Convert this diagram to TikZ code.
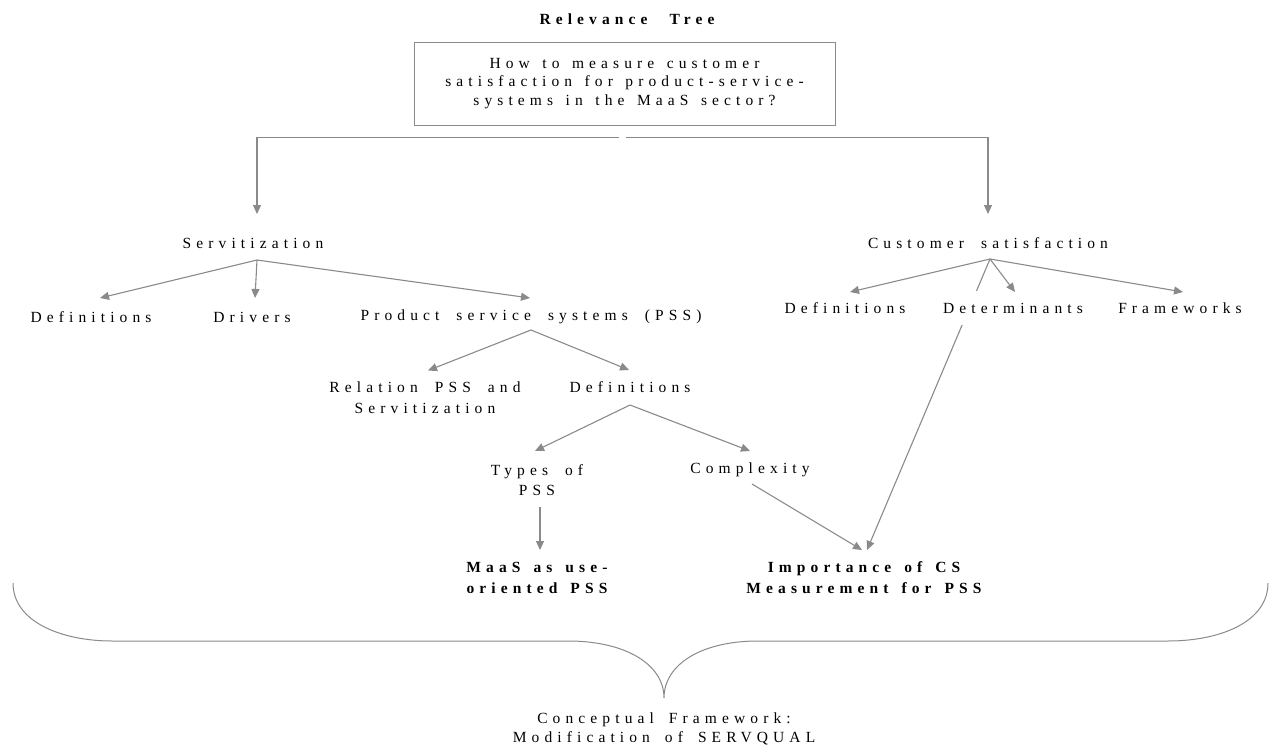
\documentclass[tikz,border=0pt]{standalone}
\usepackage{fontspec}
\setmainfont{Liberation Serif}[LetterSpace=33]
\usetikzlibrary{arrows.meta,calc}
\definecolor{linegray}{RGB}{138,138,138}
\newcommand{\gap}[1]{\spaceskip=#1pt plus 1pt minus 1pt\relax}
\tikzset{
  lbl/.style={inner sep=0pt, align=center, font=\fontsize{15.5}{20.5}\selectfont\gap{17}},
  strong/.style={inner sep=0pt, align=center, font=\fontsize{15.5}{21}\selectfont\bfseries\gap{13}},
  conn/.style={draw=linegray, line width=1.1pt, -{Triangle[length=9pt,width=8pt]}},
  brace/.style={draw=linegray, line width=1pt},
}
\begin{document}
\begin{tikzpicture}[x=1pt,y=-1pt]
\useasboundingbox (0,0) rectangle (1275,747);

% title and research question
\node[inner sep=0pt, font=\fontsize{15.5}{21}\selectfont\bfseries\gap{22}] (title) at (627,19) {Relevance Tree};
\node[draw=linegray, line width=1pt, minimum width=421pt, minimum height=83pt,
      inner sep=0pt, align=center, font=\fontsize{15.5}{18.5}\selectfont\gap{12.5}]
      (q) at (624.5,83.5) {How to measure customer\\satisfaction for product-service-\\systems in the MaaS sector?};

% first level
\node[lbl] (serv) at (253,243) {Servitization};
\node[lbl] (cs) at (988,243) {Customer satisfaction};

% servitization branch
\node[lbl] (defA) at (91,317) {Definitions};
\node[lbl] (drv) at (252,317) {Drivers};
\node[lbl] (pss) at (531,317) {Product service systems (PSS)};
\node[lbl] (rel) at (425,397.5) {Relation PSS and\\Servitization};
\node[lbl] (defB) at (630,387) {Definitions};
\node[lbl] (types) at (537,480) {Types of\\PSS};
\node[lbl] (cplx) at (750,470) {Complexity};
\node[strong] (maas) at (537,577.5) {MaaS as use-\\oriented PSS};
\node[strong] (imp) at (864,577.5) {Importance of CS\\Measurement for PSS};

% customer satisfaction branch
\node[lbl] (defC) at (845,308) {Definitions};
\node[lbl] (fw) at (1180,308) {Frameworks};

% connector end points
\coordinate (qL) at ($(q.south)+(-5.5,12)$);
\coordinate (qR) at ($(q.south)+(1.5,12)$);
\coordinate (servIn) at ($(serv.center)+(4,-29)$);
\coordinate (servOut) at ($(serv.center)+(4,17)$);
\coordinate (csIn) at ($(cs.center)+(0,-29)$);
\coordinate (csOut) at ($(cs.center)+(2,16)$);
\coordinate (defAIn) at ($(defA.center)+(9,-19)$);
\coordinate (drvIn) at ($(drv.center)+(3,-19)$);
\coordinate (pssIn) at ($(pss.center)+(-1,-19)$);
\coordinate (pssOut) at ($(pss.center)+(0,13)$);
\coordinate (relIn) at ($(rel.center)+(3,-27)$);
\coordinate (defBIn) at ($(defB.center)+(-1,-17)$);
\coordinate (defBOut) at ($(defB.center)+(0,18)$);
\coordinate (typesIn) at ($(types.center)+(-2,-29)$);
\coordinate (typesOut) at ($(types.center)+(3,27)$);
\coordinate (cplxIn) at ($(cplx.center)+(0,-19)$);
\coordinate (cplxOut) at ($(cplx.center)+(2,14)$);
\coordinate (maasIn) at ($(maas.center)+(3,-27.5)$);
\coordinate (impInA) at ($(imp.center)+(-2,-27.5)$);
\coordinate (impInB) at ($(imp.center)+(3,-27.5)$);
\coordinate (defCIn) at ($(defC.center)+(5,-16)$);
\coordinate (fwIn) at ($(fw.center)+(3,-16)$);

% connectors
\draw[conn] (qL) -| (servIn);
\draw[conn] (qR) -| (csIn);
\draw[conn] (servOut) -- (defAIn);
\draw[conn] (servOut) -- (drvIn);
\draw[conn] (servOut) -- (pssIn);
\draw[conn] (pssOut) -- (relIn);
\draw[conn] (pssOut) -- (defBIn);
\draw[conn] (defBOut) -- (typesIn);
\draw[conn] (defBOut) -- (cplxIn);
\draw[conn] (typesOut) -- (maasIn);
\draw[conn] (cplxOut) -- (impInA);
\draw[conn] (csOut) -- (defCIn);
\draw[conn] (csOut) -- (fwIn);
\draw[conn] (csOut) -- (impInB);

% determinants sits on top of the line running to the CS measurement node
\node[lbl, fill=white, inner xsep=3pt, inner ysep=12pt] (det) at (1013,308) {Determinants};
\coordinate (detIn) at ($(det.center)+(2,-16)$);
\draw[conn] (csOut) -- (detIn);

% brace gathering everything into the conceptual framework
\coordinate (tip) at (664,698);
\draw[brace] (13,583) .. controls (13,622) and (62,641) .. (112,641)
  -- (568,641) .. controls (625,641) and (664,664) .. (tip)
  .. controls (664,664) and (702,641) .. (758,641)
  -- (1168,641) .. controls (1220,641) and (1268,622) .. (1268,583);

\node[lbl, font=\fontsize{15.5}{19}\selectfont\gap{15}] (cf) at (664,728.5) {Conceptual Framework:\\Modification of SERVQUAL};
\end{tikzpicture}
\end{document}
